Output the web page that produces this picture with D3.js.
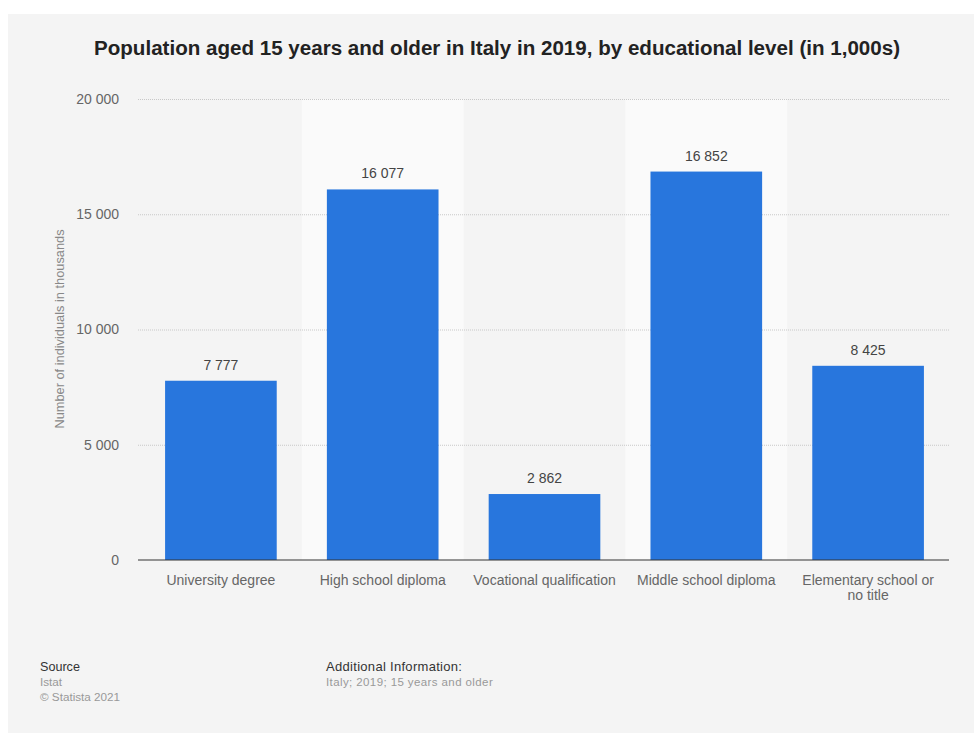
<!DOCTYPE html>
<html>
<head>
<meta charset="utf-8">
<script src="https://cdn.jsdelivr.net/npm/d3@7"></script>
<style>
  body { margin: 0; background: #fff; }
  svg { display: block; font-family: "Liberation Sans", Arial, Helvetica, sans-serif; }
</style>
</head>
<body>
<div id="chart-area"></div>
<script>
var categories = ["University degree", "High school diploma", "Vocational qualification", "Middle school diploma", "Elementary school or no title"];
var labelLines = [["University degree"], ["High school diploma"], ["Vocational qualification"], ["Middle school diploma"], ["Elementary school or", "no title"]];
var values = [7777, 16077, 2862, 16852, 8425];
var yTicks = [0, 5000, 10000, 15000, 20000];

var width = 974;
var height = 733;
var plot = { left: 140, right: 949, top: 99, bottom: 560 };

var svg = d3.select("#chart-area")
    .append("svg")
    .attr("width", width)
    .attr("height", height);

// panel background
svg.append("rect")
    .attr("x", 8).attr("y", 14)
    .attr("width", width - 8).attr("height", height - 14)
    .attr("fill", "#f4f4f4");

var fmt = d => d3.format(",")(d).replace(/,/g, " ");

var xBand = d3.scaleBand()
    .domain(categories)
    .range([plot.left, plot.right])
    .padding(0);

var x = d3.scaleBand()
    .domain(categories)
    .range([plot.left, plot.right])
    .paddingInner(0.31)
    .paddingOuter(0.155);

var y = d3.scaleLinear()
    .domain([0, 20000])
    .range([plot.bottom, plot.top]);

// alternating column shading
svg.selectAll("rect.band")
    .data(categories.filter((d, i) => i % 2 === 1))
    .enter()
    .append("rect")
    .attr("class", "band")
    .attr("x", d => xBand(d))
    .attr("y", y(20000))
    .attr("width", xBand.bandwidth())
    .attr("height", y(0) - y(20000))
    .attr("fill", "#fafafa");

// gridlines + y tick labels
var yAxis = d3.axisLeft(y)
    .tickValues(yTicks)
    .tickSize(-(plot.right - 138))
    .tickPadding(19)
    .tickFormat(fmt);

var gy = svg.append("g")
    .attr("transform", "translate(138,0)")
    .call(yAxis);
gy.select(".domain").remove();
gy.selectAll(".tick line")
    .attr("stroke", "#c8c8c8")
    .attr("stroke-dasharray", "1,1")
    .filter(d => d === 0).remove();
gy.selectAll(".tick text")
    .attr("fill", "#666")
    .attr("font-size", "14px")
    .attr("font-family", "Liberation Sans, Arial, sans-serif");

// bars
svg.selectAll("rect.bar")
    .data(values)
    .enter()
    .append("rect")
    .attr("class", "bar")
    .attr("x", (d, i) => x(categories[i]))
    .attr("y", d => y(d))
    .attr("width", x.bandwidth())
    .attr("height", d => y(0) - y(d))
    .attr("fill", "#2876dd");

// value labels
svg.selectAll("text.val")
    .data(values)
    .enter()
    .append("text")
    .attr("class", "val")
    .attr("x", (d, i) => x(categories[i]) + x.bandwidth() / 2)
    .attr("y", d => y(d) - 11)
    .attr("text-anchor", "middle")
    .attr("font-size", "14px")
    .attr("fill", "#444")
    .text(fmt);

// baseline
svg.append("line")
    .attr("x1", 138).attr("x2", plot.right)
    .attr("y1", y(0)).attr("y2", y(0))
    .attr("stroke", "#333")
    .attr("stroke-width", 1);

// x labels
var xl = svg.selectAll("text.xl")
    .data(categories)
    .enter()
    .append("text")
    .attr("class", "xl")
    .attr("x", d => xBand(d) + xBand.bandwidth() / 2)
    .attr("y", 585)
    .attr("text-anchor", "middle")
    .attr("font-size", "14px")
    .attr("fill", "#666");
xl.selectAll("tspan")
    .data((d, i) => labelLines[i])
    .enter()
    .append("tspan")
    .attr("x", function() { return this.parentNode.getAttribute("x"); })
    .attr("dy", (d, i) => i === 0 ? 0 : 15)
    .text(d => d);

// y axis title
svg.append("text")
    .attr("transform", "translate(64,329) rotate(-90)")
    .attr("text-anchor", "middle")
    .attr("font-size", "12.8px")
    .attr("fill", "#888")
    .text("Number of individuals in thousands");

// title
svg.append("text")
    .attr("x", 497)
    .attr("y", 55)
    .attr("text-anchor", "middle")
    .attr("font-size", "20px")
    .attr("font-weight", "bold")
    .attr("fill", "#222")
    .attr("textLength", 806)
    .attr("lengthAdjust", "spacingAndGlyphs")
    .text("Population aged 15 years and older in Italy in 2019, by educational level (in 1,000s)");

// footer
svg.append("text").attr("x", 40).attr("y", 671)
    .attr("font-size", "12.6px").attr("fill", "#333").text("Source");
svg.append("text").attr("x", 40).attr("y", 686)
    .attr("font-size", "11.7px").attr("fill", "#999").text("Istat");
svg.append("text").attr("x", 40).attr("y", 701)
    .attr("font-size", "11.7px").attr("fill", "#999").text("© Statista 2021");
svg.append("text").attr("x", 326).attr("y", 671)
    .attr("font-size", "13px").attr("fill", "#333").attr("letter-spacing", "0.3px")
    .text("Additional Information:");
svg.append("text").attr("x", 326).attr("y", 686)
    .attr("font-size", "11.5px").attr("fill", "#999").attr("letter-spacing", "0.4px")
    .text("Italy; 2019; 15 years and older");
</script>
</body>
</html>
